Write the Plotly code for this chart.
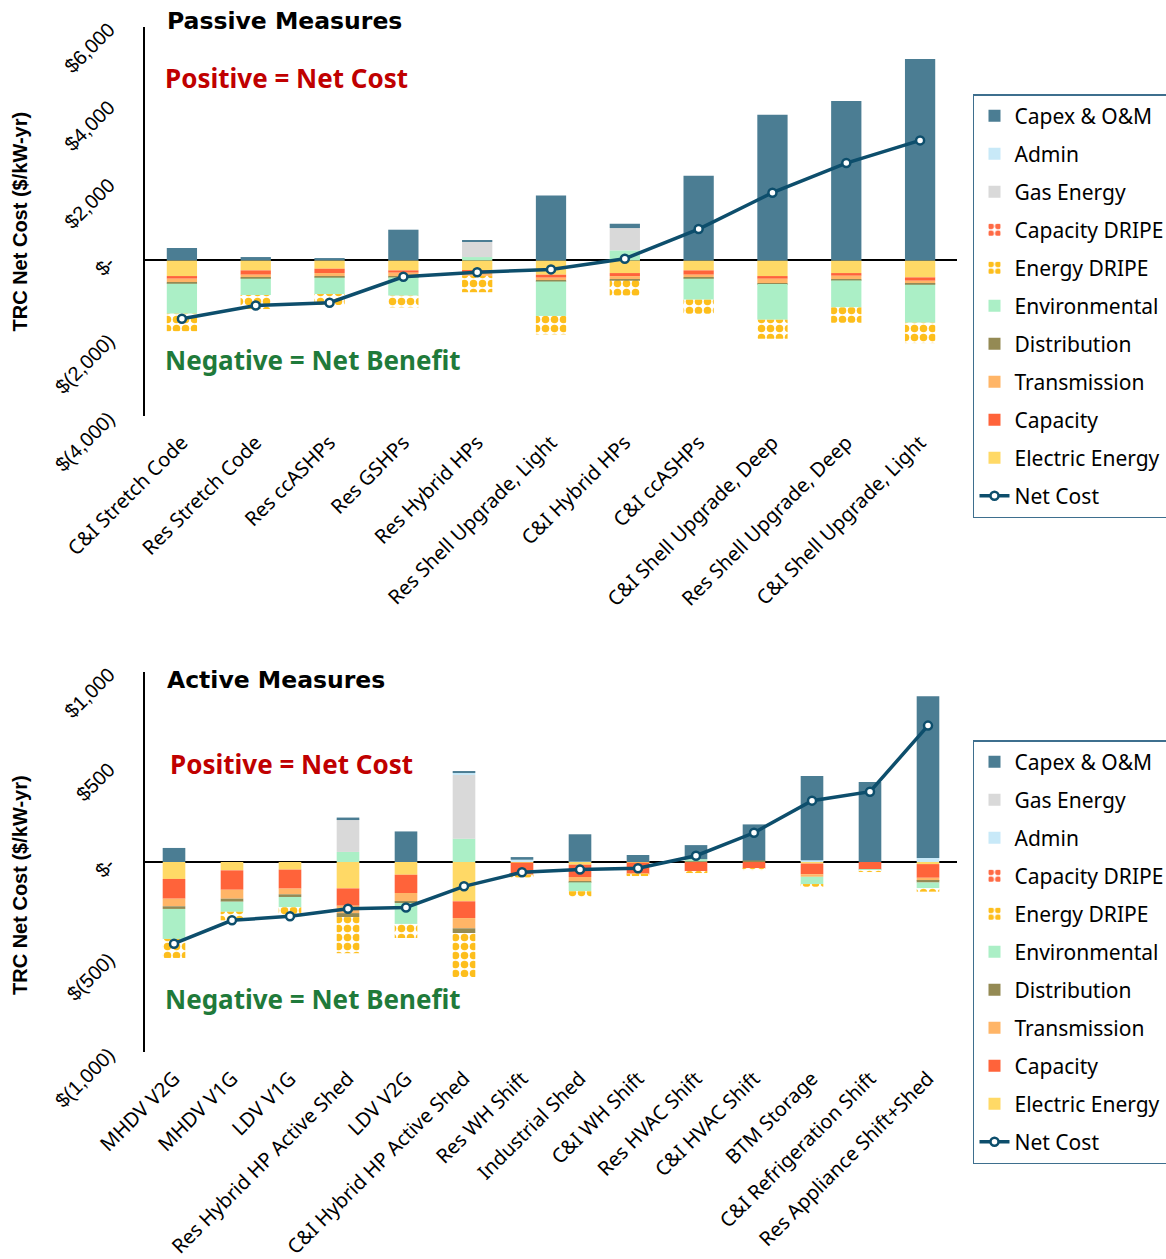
import plotly.graph_objects as go

# ---------------- Passive measures ----------------
passive_cats = [
    "C&I Stretch Code", "Res Stretch Code", "Res ccASHPs", "Res GSHPs",
    "Res Hybrid HPs", "Res Shell Upgrade, Light", "C&I Hybrid HPs",
    "C&I ccASHPs", "C&I Shell Upgrade, Deep", "Res Shell Upgrade, Deep",
    "C&I Shell Upgrade, Light",
]
p_electric = [-403, -257, -214, -257, -257, -368, -326, -257, -403, -326, -437]
p_capacity = [-68, -111, -111, -60, -51, -77, -77, -111, -69, -69, -86]
p_transmission = [-86, -69, -86, -86, -90, -60, -86, -69, -111, -94, -77]
p_distribution = [-43, -34, -34, -34, 0, -40, -34, -34, -26, -26, -26]
p_environmental = [-771, -420, -420, -471, 86, -883, 257, -540, -917, -694, -977]
p_energy_dripe = [-448, -360, -283, -300, -420, -474, -377, -360, -488, -394, -523]
p_capacity_dripe = [0, 0, 0, 0, 0, 0, 0, 0, 0, 0, 0]
p_gas = [0, 0, 0, 0, 394, 0, 574, 0, 0, 0, 0]
p_admin = [0, 0, 0, 0, 0, 0, 0, 0, 0, 0, 0]
p_capex = [319, 86, 60, 789, 34, 1671, 111, 2177, 3745, 4096, 5176]
p_net = [-1500, -1160, -1088, -420, -305, -231, 43, 806, 1740, 2502, 3085]

# ---------------- Active measures ----------------
active_cats = [
    "MHDV V2G", "MHDV V1G", "LDV V1G", "Res Hybrid HP Active Shed", "LDV V2G",
    "C&I Hybrid HP Active Shed", "Res WH Shift", "Industrial Shed",
    "C&I WH Shift", "Res HVAC Shift", "C&I HVAC Shift", "BTM Storage",
    "C&I Refrigeration Shift", "Res Appliance Shift+Shed",
]
a_electric = [-89, -44, -40, -139, -67, -207, -3, -14, -3, 0, 0, -8, 0, -11]
a_capacity = [-104, -102, -100, -91, -96, -88, -62, -65, -58, -49, -36, -56, -40, -72]
a_transmission = [-40, -47, -30, -39, -44, -54, -4, -23, -4, 0, 0, -14, 0, -16]
a_distribution = [-14, -16, -14, -21, -9, -25, 0, -5, 0, 4, 8, 0, 0, -9]
a_environmental = [-158, -53, -54, 53, -110, 123, 0, -47, 0, 11, 0, -38, -5, -30]
a_energy_dripe = [-100, -45, -48, -190, -74, -231, -12, -30, -6, -6, -8, -14, -6, -18]
a_capacity_dripe = [0, 0, 0, 0, 0, 0, 0, 0, 0, 0, 0, 0, 0, 0]
a_gas = [0, 0, 0, 172, 0, 335, 0, 0, 0, 0, 0, 0, 0, 0]
a_admin = [0, 0, 0, 0, 0, 12, 12, 2, 0, 0, 0, 9, 0, 21]
a_capex = [74, 0, 0, 9, 161, 7, 14, 144, 37, 74, 190, 444, 421, 851]
a_net = [-430, -307, -286, -246, -239, -128, -54, -40, -33, 33, 154, 323, 370, 718]

# ---------------- styling ----------------
COLORS = {
    "Capex & O&M": "#4B7D93",
    "Admin": "#C8E9F8",
    "Gas Energy": "#D9D9D9",
    "Capacity DRIPE": "#FF6A45",
    "Energy DRIPE": "#FDBE1C",
    "Environmental": "#ABEFC6",
    "Distribution": "#948A54",
    "Transmission": "#FFB567",
    "Capacity": "#FF633A",
    "Electric Energy": "#FFD966",
}
LINE_COLOR = "#0D4E6C"
UI_FONT = "Noto Sans"
NUM_FONT = "Liberation Sans"
TITLE_FONT = "DejaVu Sans"

fig = go.Figure()


def add_panel(cats, series, net, xa, ya, legend, rank, width):
    # relative mode stacks outward from zero in trace order
    for name, vals in series:
        pattern = None
        color = COLORS[name]
        if "DRIPE" in name:
            pattern = dict(shape=".", fgcolor=color, bgcolor="white",
                           size=9, solidity=0.55, fillmode="replace")
        fig.add_trace(go.Bar(
            x=cats, y=vals, name=name, width=width,
            marker=dict(color=color if pattern is None else "white",
                        line=dict(width=0), pattern=pattern),
            xaxis=xa, yaxis=ya, legend=legend, legendgroup=legend + name,
            legendrank=rank[name],
        ))
    fig.add_trace(go.Scatter(
        x=cats, y=net, name="Net Cost", mode="lines+markers",
        line=dict(color=LINE_COLOR, width=3.5),
        marker=dict(symbol="circle", size=8, color="white",
                    line=dict(color=LINE_COLOR, width=2.5)),
        xaxis=xa, yaxis=ya, legend=legend, legendgroup=legend + "net",
        legendrank=rank["Net Cost"],
    ))


passive_series = [
    ("Electric Energy", p_electric), ("Capacity", p_capacity),
    ("Transmission", p_transmission), ("Distribution", p_distribution),
    ("Environmental", p_environmental), ("Energy DRIPE", p_energy_dripe),
    ("Capacity DRIPE", p_capacity_dripe), ("Gas Energy", p_gas),
    ("Admin", p_admin), ("Capex & O&M", p_capex),
]
active_series = [
    ("Electric Energy", a_electric), ("Capacity", a_capacity),
    ("Transmission", a_transmission), ("Distribution", a_distribution),
    ("Environmental", a_environmental), ("Energy DRIPE", a_energy_dripe),
    ("Capacity DRIPE", a_capacity_dripe), ("Gas Energy", a_gas),
    ("Admin", a_admin), ("Capex & O&M", a_capex),
]
passive_rank = {n: i for i, n in enumerate([
    "Capex & O&M", "Admin", "Gas Energy", "Capacity DRIPE", "Energy DRIPE",
    "Environmental", "Distribution", "Transmission", "Capacity",
    "Electric Energy", "Net Cost"])}
active_rank = {n: i for i, n in enumerate([
    "Capex & O&M", "Gas Energy", "Admin", "Capacity DRIPE", "Energy DRIPE",
    "Environmental", "Distribution", "Transmission", "Capacity",
    "Electric Energy", "Net Cost"])}

add_panel(passive_cats, passive_series, p_net, "x", "y", "legend", passive_rank, 0.41)
add_panel(active_cats, active_series, a_net, "x2", "y2", "legend2", active_rank, 0.39)

yaxis_common = dict(
    showgrid=False, showline=True, linecolor="black", linewidth=2,
    ticks="", tickangle=-45, ticklabelstandoff=30, automargin=False,
    tickfont=dict(family=NUM_FONT, size=20, color="black"),
    zeroline=True, zerolinecolor="black", zerolinewidth=1.5,
)
xaxis_common = dict(
    type="category", showgrid=False, showline=False, ticks="",
    tickangle=-45, ticklabelstandoff=10, automargin=False,
    tickfont=dict(family=UI_FONT, size=20, color="black"),
)

legend_common = dict(
    xanchor="left", yanchor="top", x=1.0197,
    bgcolor="white", bordercolor="#3E6F8E", borderwidth=1.5,
    font=dict(family=UI_FONT, size=21, color="black"),
    traceorder="grouped", tracegroupgap=7.7,
)

fig.update_layout(
    width=1166, height=1259,
    margin=dict(l=145, r=209, t=27, b=207, autoexpand=False),
    paper_bgcolor="white", plot_bgcolor="white",
    barmode="relative", showlegend=True,
    xaxis=dict(xaxis_common, domain=[0, 1], anchor="y", range=[-0.5, 10.5]),
    yaxis=dict(yaxis_common, domain=[0.6205, 1], anchor="x", range=[-4000, 6000],
               tickvals=[-4000, -2000, 0, 2000, 4000, 6000],
               ticktext=["$(4,000)", "$(2,000)", "$-", "$2,000", "$4,000", "$6,000"]),
    xaxis2=dict(xaxis_common, domain=[0, 1], anchor="y2", range=[-0.5, 13.5]),
    yaxis2=dict(yaxis_common, domain=[0, 0.3707], anchor="x2", range=[-1000, 1000],
                tickvals=[-1000, -500, 0, 500, 1000],
                ticktext=["$(1,000)", "$(500)", "$-", "$500", "$1,000"]),
    legend=dict(legend_common, y=0.9345),
    legend2=dict(legend_common, y=0.3043),
)

notes = [
    ("x domain", "y domain", 0.0246, 1.016, "Passive Measures", "black", 23.5, TITLE_FONT),
    ("x domain", "y domain", 0.022, 0.869, "Positive = Net Cost", "#C00000", 26, UI_FONT),
    ("x domain", "y domain", 0.022, 0.144, "Negative = Net Benefit", "#1F7A3A", 26, UI_FONT),
    ("x2 domain", "y2 domain", 0.0246, 0.979, "Active Measures", "black", 23.5, TITLE_FONT),
    ("x2 domain", "y2 domain", 0.0283, 0.758, "Positive = Net Cost", "#C00000", 26, UI_FONT),
    ("x2 domain", "y2 domain", 0.022, 0.139, "Negative = Net Benefit", "#1F7A3A", 26, UI_FONT),
]
for xr, yr, x, y, txt, col, sz, fam in notes:
    fig.add_annotation(xref=xr, yref=yr, x=x, y=y, text="<b>%s</b>" % txt,
                       showarrow=False, xanchor="left", yanchor="middle",
                       font=dict(family=fam, size=sz, color=col))

# rotated y-axis titles
for y in (0.8102, 0.1629):
    fig.add_annotation(xref="paper", yref="paper", x=-0.1540, y=y,
                       text="<b>TRC Net Cost ($/kW-yr)</b>", textangle=-90,
                       showarrow=False, xanchor="center", yanchor="middle",
                       font=dict(family=NUM_FONT, size=20, color="black"))

fig.write_html("out.html")
